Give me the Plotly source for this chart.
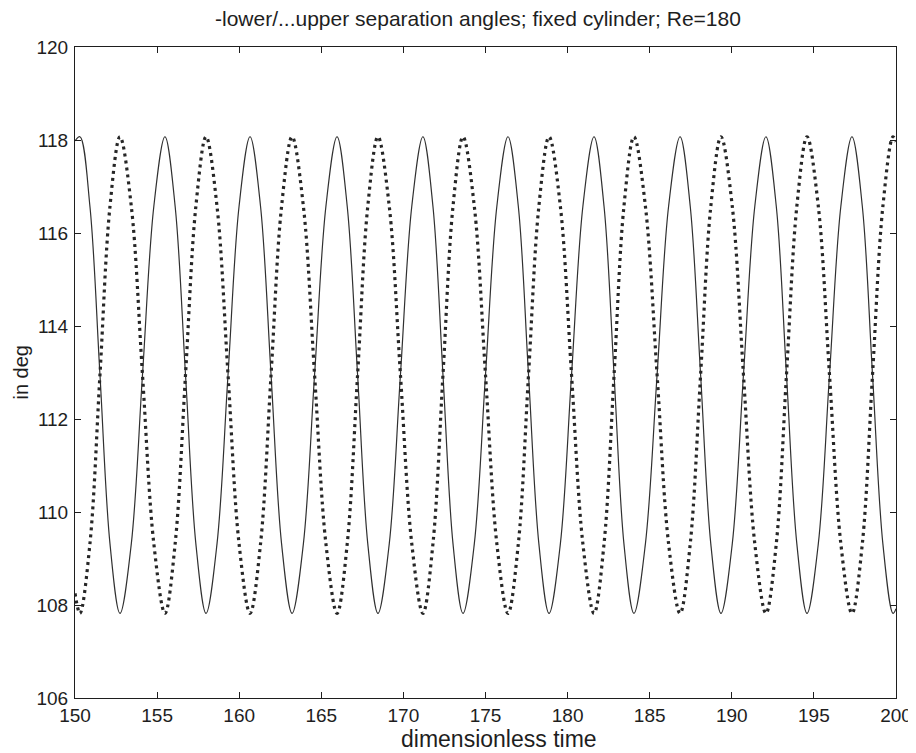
import plotly.graph_objects as go

# ---- data ----
time = [
    150.00, 150.30, 150.91, 151.52, 152.13, 152.74, 153.43, 154.11, 154.80,
    155.48, 156.10, 156.73, 157.36, 157.98, 158.65, 159.32, 159.99,
    160.66, 161.30, 161.94, 162.58, 163.22, 163.91, 164.59, 165.28,
    165.96, 166.58, 167.21, 167.83, 168.45, 169.14, 169.82, 170.51,
    171.19, 171.80, 172.41, 173.02, 173.63, 174.32, 175.00, 175.69,
    176.37, 177.00, 177.62, 178.25, 178.87, 179.56, 180.24, 180.93,
    181.61, 182.22, 182.83, 183.43, 184.04, 184.74, 185.45, 186.15,
    186.85, 187.47, 188.10, 188.72, 189.34, 190.03, 190.71, 191.40,
    192.08, 192.71, 193.33, 193.96, 194.58, 195.27, 195.95, 196.64,
    197.32, 197.95, 198.57, 199.20, 199.82, 200.00,
]

# dotted curve (upper separation angle), deg
upper_angle = [
    108.25, 107.82, 109.32, 112.95, 116.57, 118.07, 116.57, 112.95, 109.32,
    107.82, 109.32, 112.95, 116.57, 118.07, 116.57, 112.95, 109.32,
    107.82, 109.32, 112.95, 116.57, 118.07, 116.57, 112.95, 109.32,
    107.82, 109.32, 112.95, 116.57, 118.07, 116.57, 112.95, 109.32,
    107.82, 109.32, 112.95, 116.57, 118.07, 116.57, 112.95, 109.32,
    107.82, 109.32, 112.95, 116.57, 118.07, 116.57, 112.95, 109.32,
    107.82, 109.32, 112.95, 116.57, 118.07, 116.57, 112.95, 109.32,
    107.82, 109.32, 112.95, 116.57, 118.07, 116.57, 112.95, 109.32,
    107.82, 109.32, 112.95, 116.57, 118.07, 116.57, 112.95, 109.32,
    107.82, 109.32, 112.95, 116.57, 118.07, 117.96,
]

# solid curve (lower separation angle), deg
lower_angle = [
    117.98, 118.07, 116.57, 112.95, 109.32, 107.82, 109.32, 112.95, 116.57,
    118.07, 116.57, 112.95, 109.32, 107.82, 109.32, 112.95, 116.57,
    118.07, 116.57, 112.95, 109.32, 107.82, 109.32, 112.95, 116.57,
    118.07, 116.57, 112.95, 109.32, 107.82, 109.32, 112.95, 116.57,
    118.07, 116.57, 112.95, 109.32, 107.82, 109.32, 112.95, 116.57,
    118.07, 116.57, 112.95, 109.32, 107.82, 109.32, 112.95, 116.57,
    118.07, 116.57, 112.95, 109.32, 107.82, 109.32, 112.95, 116.57,
    118.07, 116.57, 112.95, 109.32, 107.82, 109.32, 112.95, 116.57,
    118.07, 116.57, 112.95, 109.32, 107.82, 109.32, 112.95, 116.57,
    118.07, 116.57, 112.95, 109.32, 107.82, 107.92,
]

x_ticks = [150, 155, 160, 165, 170, 175, 180, 185, 190, 195, 200]
y_ticks = [106, 108, 110, 112, 114, 116, 118, 120]

title_text = "-lower/...upper separation angles; fixed cylinder; Re=180"
x_label = "dimensionless time"
y_label = "in deg"

FONT = "Liberation Sans, Arial, Helvetica, sans-serif"
INK = "#1e1e1e"

fig = go.Figure()
fig.add_trace(go.Scatter(
    x=time, y=lower_angle, mode="lines", name="lower",
    line=dict(color="#303030", width=1.2, shape="spline", smoothing=1.0),
))
fig.add_trace(go.Scatter(
    x=time, y=upper_angle, mode="lines", name="upper",
    line=dict(color="#262626", width=3.2, dash="3px,4px",
              shape="spline", smoothing=1.0),
))

axis_common = dict(
    showline=True, linecolor=INK, linewidth=1, mirror="ticks",
    ticks="inside", ticklen=6, tickwidth=1, tickcolor=INK,
    showgrid=False, zeroline=False,
    tickfont=dict(family=FONT, size=19, color=INK),
)

fig.update_layout(
    width=916, height=753,
    margin=dict(l=67, r=28, t=39, b=63),
    paper_bgcolor="white", plot_bgcolor="white",
    showlegend=False,
    xaxis=dict(range=[150, 200], tickvals=x_ticks, ticklabelstandoff=0,
               **axis_common),
    yaxis=dict(range=[106, 120], tickvals=y_ticks, ticklabelstandoff=2,
               **axis_common),
    annotations=[
        dict(text=title_text, xref="paper", yref="paper", x=0.491, y=1.0,
             yshift=29, xanchor="center", yanchor="middle", showarrow=False,
             font=dict(family=FONT, size=21, color=INK)),
        dict(text=x_label, xref="paper", yref="paper", x=0.516, y=0,
             yshift=-41, xanchor="center", yanchor="middle", showarrow=False,
             font=dict(family=FONT, size=23, color=INK)),
        dict(text=y_label, xref="paper", yref="paper", x=0, y=0.5,
             xshift=-55, xanchor="center", yanchor="middle", textangle=-90,
             showarrow=False, font=dict(family=FONT, size=20, color=INK)),
    ],
)

fig.write_html("out.html")
